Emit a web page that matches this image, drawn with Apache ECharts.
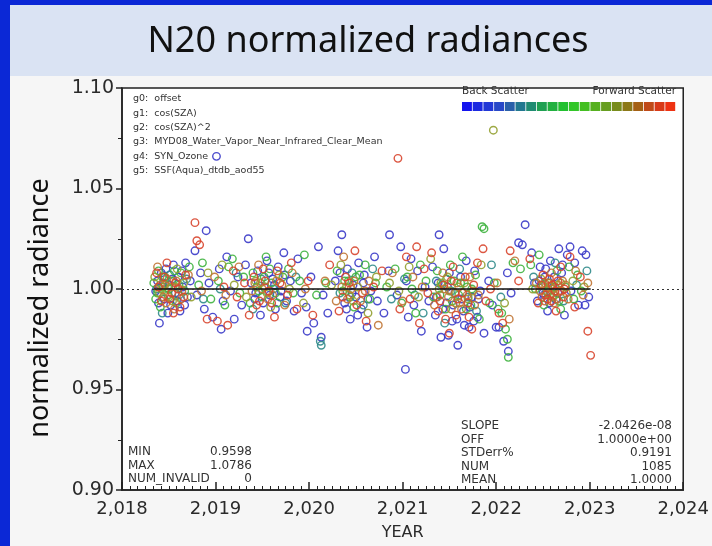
<!DOCTYPE html>
<html>
<head>
<meta charset="utf-8">
<title>N20 normalized radiances</title>
<script src="https://cdn.jsdelivr.net/npm/echarts@6/dist/echarts.min.js"></script>
<style>
  html, body { margin: 0; padding: 0; background: #0b28d6; }
  #chart { width: 712px; height: 546px; }
</style>
</head>
<body>
<div id="chart"></div>
<script>
// Normalized radiance samples [decimal year, normalized radiance], grouped by scattering-angle colour class
const blueScatter = [
  [2018.36,0.999],[2018.38,1.004],[2018.40,0.983],[2018.42,1.008],[2018.45,0.995],[2018.47,1.010],[2018.50,1.002],[2018.52,0.992],
  [2018.55,1.012],[2018.57,0.998],[2018.60,1.006],[2018.62,0.989],[2018.65,1.001],[2018.68,1.013],[2018.70,0.996],[2018.73,1.004],
  [2018.78,1.019],[2018.80,0.997],[2018.84,1.008],[2018.88,0.990],[2018.90,1.029],[2018.93,1.003],[2018.97,0.986],
  [2019.01,1.066],[2019.04,1.010],[2019.06,0.980],[2019.08,0.994],[2019.12,1.016],[2019.16,0.999],[2019.20,0.985],[2019.24,1.006],
  [2019.28,0.992],[2019.32,1.012],[2019.35,1.025],[2019.38,1.003],[2019.42,0.995],[2019.45,1.009],[2019.48,0.987],[2019.52,1.001],
  [2019.55,1.014],[2019.58,0.997],[2019.61,1.005],[2019.64,0.990],[2019.67,1.011],[2019.70,0.999],[2019.73,1.018],[2019.76,0.994],
  [2019.80,1.004],[2019.84,0.989],[2019.88,1.015],[2019.92,0.998],[2019.97,0.991],[2019.98,0.979],[2020.02,1.006],[2020.05,0.983],
  [2020.10,1.021],[2020.13,0.976],[2020.15,0.997],[2020.20,0.988],[2020.28,1.004],[2020.31,1.019],[2020.35,1.027],[2020.38,0.993],
  [2020.41,1.010],[2020.44,0.985],[2020.47,1.002],[2020.50,0.996],[2020.53,1.013],[2020.56,0.990],[2020.59,1.007],[2020.62,0.981],
  [2020.66,0.999],[2020.70,1.016],[2020.73,0.994],[2020.80,0.988],[2020.85,1.009],[2020.86,1.027],[2020.94,0.997],[2020.98,1.021],
  [2021.03,0.960],[2021.04,1.004],[2021.06,0.986],[2021.09,1.015],[2021.12,0.992],[2021.16,1.009],[2021.20,0.979],[2021.24,1.001],
  [2021.28,0.994],[2021.32,1.011],[2021.35,0.987],[2021.39,1.027],[2021.38,1.003],[2021.41,0.976],[2021.44,1.020],[2021.47,0.993],
  [2021.50,1.008],[2021.49,0.977],[2021.53,0.984],[2021.56,0.998],[2021.59,0.972],[2021.62,1.006],[2021.65,0.989],[2021.68,1.014],
  [2021.71,0.981],[2021.74,0.996],[2021.77,1.009],[2021.80,0.986],[2021.83,0.999],[2021.87,0.978],[2021.92,1.004],[2021.96,0.992],
  [2022.00,0.981],[2022.03,0.981],[2022.08,0.974],[2022.13,0.969],[2022.12,1.008],[2022.16,0.998],[2022.24,1.023],[2022.28,1.022],
  [2022.31,1.032],[2022.38,1.018],[2022.41,1.003],[2022.44,0.994],[2022.47,1.011],[2022.50,0.998],[2022.52,1.006],[2022.55,0.989],
  [2022.58,1.014],[2022.61,1.001],[2022.64,0.995],[2022.67,1.020],[2022.70,1.008],[2022.73,0.987],[2022.76,1.017],[2022.79,1.021],
  [2022.80,0.999],[2022.84,1.013],[2022.88,0.992],[2022.92,1.019],[2022.95,0.992],[2022.96,1.017],[2022.99,0.996],
  [2018.39,0.993],[2018.44,1.003],[2018.49,0.988],[2018.54,1.005],[2018.59,0.994],[2018.64,1.009],[2018.67,0.992],
  [2019.43,0.998],[2019.51,0.993],[2019.57,1.008],[2019.63,1.002],[2019.69,0.996],[2019.74,1.007],
  [2020.33,1.008],[2020.40,0.990],[2020.46,0.998],[2020.52,0.987],[2020.58,1.003],[2020.63,0.995],
  [2021.36,0.996],[2021.43,0.990],[2021.48,1.001],[2021.54,0.992],[2021.58,0.985],[2021.63,0.995],[2021.66,0.982],[2021.72,0.991],
  [2021.76,0.984],[2021.81,0.995],[2022.46,1.004],[2022.51,0.997],[2022.53,1.010],[2022.57,0.993],[2022.62,1.006],[2022.66,0.998],
  [2022.71,1.012]
];
const tealScatter = [
  [2018.37,1.000],[2018.43,0.988],[2018.51,1.007],[2018.61,0.997],[2018.69,1.005],[2018.87,0.995],[2019.05,1.000],[2019.22,1.008],
  [2019.40,0.990],[2019.49,1.005],[2019.62,1.000],[2019.75,0.993],[2019.86,1.006],[2020.12,0.974],[2020.13,0.972],[2020.33,0.998],
  [2020.46,1.008],[2020.58,0.992],[2020.68,1.010],[2020.88,0.995],[2021.02,1.005],[2021.13,0.997],[2021.22,0.988],[2021.36,1.004],
  [2021.45,0.983],[2021.52,0.999],[2021.61,1.010],[2021.70,0.996],[2021.79,0.989],[2021.95,1.012],[2022.05,0.996],[2022.40,1.006],
  [2022.54,0.999],[2022.63,1.013],[2022.72,0.994],[2022.86,1.002],[2022.97,1.009]
];
const greenScatter = [
  [2018.34,1.003],[2018.36,0.995],[2018.39,1.009],[2018.41,0.991],[2018.44,1.001],[2018.46,1.006],[2018.49,0.997],[2018.53,1.004],
  [2018.58,0.993],[2018.63,1.008],[2018.67,0.999],[2018.72,1.011],[2018.82,1.002],[2018.86,1.013],[2018.95,0.995],[2019.03,1.004],
  [2019.10,0.992],[2019.14,1.011],[2019.18,1.015],[2019.26,0.998],[2019.30,1.006],[2019.37,0.993],[2019.40,1.008],[2019.44,1.001],
  [2019.50,0.996],[2019.54,1.016],[2019.60,1.003],[2019.66,0.993],[2019.72,1.006],[2019.78,1.010],[2019.83,0.998],[2019.90,1.004],
  [2019.95,1.017],[2020.08,0.997],[2020.18,1.003],[2020.30,1.009],[2020.36,0.999],[2020.42,1.004],[2020.48,0.991],[2020.54,1.007],
  [2020.60,1.012],[2020.65,0.995],[2020.71,1.003],[2020.83,1.001],[2020.92,1.010],[2020.99,0.993],[2021.05,1.006],[2021.10,1.000],
  [2021.14,0.988],[2021.19,1.012],[2021.25,1.004],[2021.33,0.996],[2021.37,1.009],[2021.42,1.002],[2021.46,0.990],[2021.51,1.012],
  [2021.55,1.004],[2021.60,0.997],[2021.64,1.016],[2021.69,1.001],[2021.73,0.992],[2021.78,1.007],[2021.82,0.985],[2021.85,1.031],
  [2021.87,1.030],[2021.93,0.993],[2021.98,1.003],[2022.02,0.990],[2022.06,0.988],[2022.10,0.980],[2022.12,0.975],[2022.13,0.966],
  [2022.18,1.013],[2022.26,1.010],[2022.37,1.012],[2022.42,1.000],[2022.46,1.017],[2022.51,0.992],[2022.56,1.003],[2022.60,0.996],
  [2022.65,1.009],[2022.69,0.990],[2022.74,1.001],[2022.78,1.011],[2022.83,0.995],[2022.87,1.007],[2022.91,0.999],
  [2018.38,0.998],[2018.43,1.006],[2018.50,1.000],[2018.56,1.009],[2018.61,1.002],[2019.46,0.999],[2019.52,1.006],[2019.58,1.010],
  [2019.64,0.998],[2020.38,1.004],[2020.44,0.996],[2020.50,1.006],[2021.40,0.997],[2021.47,1.005],[2021.53,0.994],[2021.62,1.003],
  [2021.68,0.990],[2021.74,1.000],[2022.50,1.002],[2022.55,0.998],[2022.63,1.001],[2022.67,0.994]
];
const oliveScatter = [
  [2018.35,1.006],[2018.40,0.998],[2018.46,1.002],[2018.54,0.994],[2018.59,1.010],[2018.66,1.003],[2018.74,0.996],[2018.92,1.008],
  [2019.07,1.012],[2019.20,1.002],[2019.33,0.996],[2019.43,1.004],[2019.53,1.001],[2019.59,0.991],[2019.68,1.007],[2019.79,1.000],
  [2019.94,0.993],[2020.24,1.002],[2020.34,1.012],[2020.43,0.997],[2020.52,1.001],[2020.63,0.988],[2020.72,1.006],[2020.86,1.003],
  [2020.96,0.999],[2021.07,1.011],[2021.17,0.996],[2021.30,1.015],[2021.39,1.000],[2021.48,1.006],[2021.57,0.993],[2021.66,1.003],
  [2021.75,0.999],[2021.84,1.012],[2021.97,1.079],[2022.09,0.993],[2022.39,1.000],[2022.48,1.005],[2022.57,0.997],[2022.66,1.002],
  [2022.75,0.998],[2022.82,1.004],[2022.94,1.001],
  [2018.42,1.000],[2018.50,0.996],[2018.57,1.001],[2019.48,1.003],[2019.55,0.998],[2020.40,1.001],[2020.47,0.994],[2021.41,1.003],
  [2021.50,0.999],[2021.60,1.001],[2021.70,0.995],[2022.52,1.003],[2022.58,1.001],[2022.62,0.997],[2022.69,1.003]
];
const orangeScatter = [
  [2018.38,1.011],[2018.44,0.996],[2018.48,1.005],[2018.56,0.990],[2018.64,0.999],[2018.71,1.007],[2018.85,0.999],[2018.99,1.006],
  [2019.11,0.997],[2019.25,1.011],[2019.39,0.999],[2019.46,1.012],[2019.56,0.995],[2019.65,1.004],[2019.74,0.992],[2019.82,1.008],
  [2019.96,1.000],[2020.17,1.004],[2020.29,0.994],[2020.37,1.016],[2020.45,1.000],[2020.55,0.994],[2020.64,1.004],[2020.74,0.982],
  [2020.89,1.008],[2021.00,0.994],[2021.11,1.006],[2021.21,1.001],[2021.34,0.992],[2021.43,1.008],[2021.49,0.996],[2021.58,1.003],
  [2021.63,0.990],[2021.72,1.006],[2021.81,0.997],[2022.01,1.003],[2022.14,0.985],[2022.20,1.014],[2022.43,1.003],[2022.49,0.996],
  [2022.53,1.001],[2022.59,1.008],[2022.62,0.993],[2022.68,0.999],[2022.71,1.004],[2022.77,0.995],[2022.85,1.009],[2022.93,0.997],
  [2022.98,1.003],
  [2018.41,1.002],[2018.47,0.993],[2018.52,1.001],[2018.58,1.004],[2018.63,0.995],[2019.42,1.003],[2019.50,1.000],[2019.61,0.997],
  [2019.71,1.002],[2020.35,1.001],[2020.41,0.995],[2020.48,1.004],[2020.60,0.999],[2021.37,0.996],[2021.45,1.000],[2021.52,0.990],
  [2021.56,0.998],[2021.61,0.993],[2021.69,0.997],[2021.77,0.992],[2022.47,0.999],[2022.52,0.994],[2022.56,1.003],[2022.58,0.997],
  [2022.61,1.000],[2022.65,0.995],[2022.70,0.999],[2022.74,1.002]
];
const redScatter = [
  [2018.37,1.008],[2018.42,0.994],[2018.48,1.013],[2018.53,0.998],[2018.57,1.003],[2018.62,0.991],[2018.68,1.007],[2018.78,1.033],
  [2018.80,1.024],[2018.83,1.022],[2018.91,0.985],[2019.02,0.984],[2019.09,1.001],[2019.13,0.982],[2019.19,1.009],[2019.23,0.996],
  [2019.31,1.003],[2019.36,0.987],[2019.41,1.006],[2019.47,0.994],[2019.51,1.010],[2019.57,0.999],[2019.63,0.986],[2019.69,1.003],
  [2019.77,0.997],[2019.81,1.013],[2019.87,0.990],[2019.99,1.004],[2020.04,0.987],[2020.22,1.012],[2020.32,0.989],[2020.39,1.006],
  [2020.49,1.019],[2020.57,0.998],[2020.61,0.984],[2020.69,1.001],[2020.78,1.009],[2020.95,1.065],[2020.97,0.990],[2021.04,1.016],
  [2021.08,0.995],[2021.15,1.021],[2021.18,0.983],[2021.23,1.010],[2021.27,0.998],[2021.31,1.018],[2021.38,0.989],[2021.44,1.002],
  [2021.50,0.978],[2021.54,1.011],[2021.59,0.995],[2021.67,1.006],[2021.71,0.986],[2021.76,1.002],[2021.80,1.013],[2021.86,1.020],
  [2021.89,0.994],[2021.94,1.000],[2022.03,0.988],[2022.07,0.983],[2022.15,1.019],[2022.24,1.004],[2022.36,1.015],[2022.45,0.993],
  [2022.50,1.007],[2022.55,0.995],[2022.60,1.002],[2022.64,0.989],[2022.69,1.011],[2022.73,1.000],[2022.79,1.016],[2022.84,0.991],
  [2022.90,1.006],[2022.98,0.979],[2023.01,0.967],
  [2018.39,1.001],[2018.45,1.006],[2018.51,0.995],[2018.55,0.988],[2018.60,1.000],[2018.66,0.996],[2019.44,0.992],[2019.53,1.004],
  [2019.60,0.993],[2019.66,1.009],[2020.36,0.996],[2020.43,1.003],[2020.51,0.992],[2021.40,0.994],[2021.46,0.985],[2021.52,1.004],
  [2021.57,0.987],[2021.64,0.998],[2021.70,0.993],[2021.74,0.980],[2022.48,1.002],[2022.53,0.997],[2022.57,1.005],[2022.59,0.994],
  [2022.63,0.999],[2022.66,1.004],[2022.72,0.996]
];

// Scattering-angle colour scale, back scatter -> forward scatter
const angleColors = [
  '#1414ee','#1c2ae0','#2238d6','#2848c8','#2a60aa','#227890','#208c72','#20a052','#22b040','#22c030',
  '#32c628','#44bf22','#56b020','#669e20','#788c1c','#8c7818','#a46014','#c04a18','#d83a18','#ee3212'
];
const seriesGroups = [
  { name: 'blue',   data: blueScatter,   color: '#3838c8' },
  { name: 'teal',   data: tealScatter,   color: '#2f8a8a' },
  { name: 'green',  data: greenScatter,  color: '#3fb33f' },
  { name: 'olive',  data: oliveScatter,  color: '#92a030' },
  { name: 'orange', data: orangeScatter, color: '#c07434' },
  { name: 'red',    data: redScatter,    color: '#d8452e' }
];

// Regression predictors listed in the plot
const predictorLines = [
  'g0:  offset',
  'g1:  cos(SZA)',
  'g2:  cos(SZA)^2',
  'g3:  MYD08_Water_Vapor_Near_Infrared_Clear_Mean',
  'g4:  SYN_Ozone',
  'g5:  SSF(Aqua)_dtdb_aod55'
];
// Summary statistics
const rangeLabels = ['MIN', 'MAX', 'NUM_INVALID'];
const rangeValues = ['0.9598', '1.0786', '0'];
const fitLabels = ['SLOPE', 'OFF', 'STDerr%', 'NUM', 'MEAN'];
const fitValues = ['-2.0426e-08', '1.0000e+00', '0.9191', '1085', '1.0000'];
const fitOffset = 1.0;

const yearTicks = { min: 2018, max: 2024, step: 1 };
const radianceTicks = { min: 0.90, max: 1.10, step: 0.05 };

const allPoints = seriesGroups.reduce((a, g) => a.concat(g.data), []);
const firstYear = Math.min.apply(null, allPoints.map(p => p[0]));
const lastYear = Math.max.apply(null, allPoints.map(p => p[0]));

const chart = echarts.init(document.getElementById('chart'), null, { renderer: 'canvas' });

const txt = '#2a2a2a';
const mono = 'DejaVu Sans';

const graphics = [
  // slide background: chart panel and title band
  { type: 'rect', shape: { x: 10, y: 76, width: 702, height: 470 }, style: { fill: '#f6f6f6' }, z: -10 },
  { type: 'rect', shape: { x: 10, y: 5, width: 702, height: 71 }, style: { fill: '#dae3f3' }, z: 10 },
  { type: 'text', x: 368, y: 42, z: 11,
    style: { text: 'N20 normalized radiances', fontSize: 36, fontFamily: 'Noto Sans', fill: '#111',
             textAlign: 'center', textVerticalAlign: 'middle' } },
  // vertical axis title
  { type: 'text', x: 40, y: 308, rotation: Math.PI / 2, z: 11,
    style: { text: 'normalized radiance', fontSize: 27, fontFamily: 'Noto Sans', fill: '#111',
             textAlign: 'center', textVerticalAlign: 'middle' } }
];
predictorLines.forEach((t, i) => {
  graphics.push({ type: 'text', x: 133, y: 94 + i * 14.3, z: 5,
    style: { text: t, fontSize: 9.5, fontFamily: mono, fill: '#333' } });
});
graphics.push({ type: 'text', x: 462, y: 86, z: 5, style: { text: 'Back Scatter', fontSize: 10.5, fontFamily: mono, fill: '#333' } });
graphics.push({ type: 'text', x: 676, y: 86, z: 5, style: { text: 'Forward Scatter', fontSize: 10.5, fontFamily: mono, fill: '#333', textAlign: 'right' } });
const barW = (676 - 462) / angleColors.length;
angleColors.forEach((c, i) => {
  graphics.push({ type: 'rect', z: 5, shape: { x: 462 + i * barW, y: 102, width: barW - 0.8, height: 9 }, style: { fill: c } });
});
rangeLabels.forEach((t, i) => {
  graphics.push({ type: 'text', x: 128, y: 446 + i * 13.5, z: 5, style: { text: t, fontSize: 12, fontFamily: mono, fill: '#333' } });
  graphics.push({ type: 'text', x: 252, y: 446 + i * 13.5, z: 5, style: { text: rangeValues[i], fontSize: 12, fontFamily: mono, fill: '#333', textAlign: 'right' } });
});
fitLabels.forEach((t, i) => {
  graphics.push({ type: 'text', x: 461, y: 420 + i * 13.5, z: 5, style: { text: t, fontSize: 12, fontFamily: mono, fill: '#333' } });
  graphics.push({ type: 'text', x: 672, y: 420 + i * 13.5, z: 5, style: { text: fitValues[i], fontSize: 12, fontFamily: mono, fill: '#333', textAlign: 'right' } });
});

const scatterSeries = seriesGroups.map(g => ({
  name: g.name,
  type: 'scatter',
  data: g.data,
  symbol: 'circle',
  symbolSize: 7.5,
  itemStyle: { color: 'rgba(0,0,0,0)', borderColor: g.color, borderWidth: 1.4, opacity: 0.9 },
  z: 3
}));

chart.setOption({
  animation: false,
  backgroundColor: 'transparent',
  graphic: graphics,
  grid: { left: 122, right: 26, top: 88, bottom: 52, show: true, backgroundColor: '#fff', borderColor: '#222', borderWidth: 1.5 },
  xAxis: {
    type: 'value', min: yearTicks.min, max: yearTicks.max, interval: yearTicks.step,
    name: 'YEAR', nameLocation: 'middle', nameGap: 35,
    nameTextStyle: { fontSize: 16, fontFamily: mono, color: txt },
    axisLine: { show: true, onZero: false, lineStyle: { color: '#222', width: 1.5 } },
    axisTick: { show: true, inside: true, length: 8, lineStyle: { color: '#222', width: 1.5 } },
    minorTick: { show: true, splitNumber: 12, length: 4, lineStyle: { color: '#222', width: 1 } },
    axisLabel: { fontSize: 18, fontFamily: mono, color: txt, margin: 10 },
    splitLine: { show: false }
  },
  yAxis: {
    type: 'value', min: radianceTicks.min, max: radianceTicks.max, interval: radianceTicks.step,
    axisLine: { show: true, lineStyle: { color: '#222', width: 1.5 } },
    axisTick: { show: true, inside: false, length: 6, lineStyle: { color: '#222', width: 1.5 } },
    minorTick: { show: true, splitNumber: 2, length: 4, lineStyle: { color: '#222', width: 1 } },
    axisLabel: { fontSize: 19, fontFamily: mono, color: txt, margin: 8, formatter: v => v.toFixed(2) },
    splitLine: { show: false }
  },
  series: [
    {
      type: 'line',
      data: [[firstYear, fitOffset], [lastYear, fitOffset]],
      symbol: 'none',
      lineStyle: { color: '#111', width: 1.6 },
      z: 4,
      markLine: {
        silent: true, symbol: 'none', label: { show: false },
        lineStyle: { color: '#333', type: [2, 3], width: 1.2 },
        data: [{ yAxis: fitOffset }]
      }
    }
  ].concat(scatterSeries)
});
</script>
</body>
</html>
